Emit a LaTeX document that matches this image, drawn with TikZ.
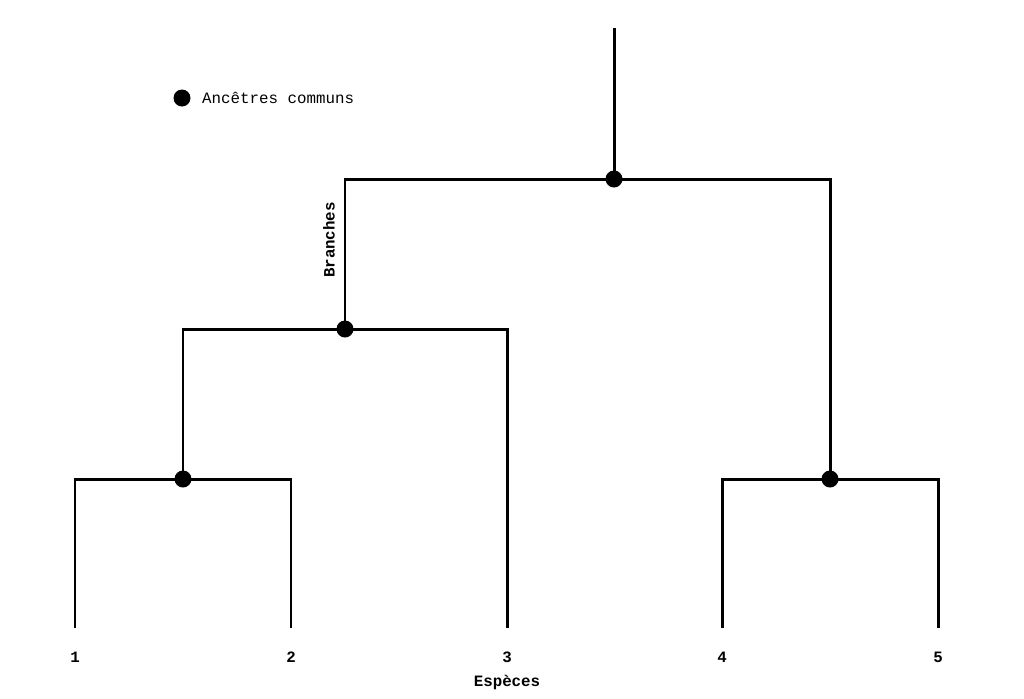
\documentclass[tikz,border=0pt]{standalone}
\usepackage{fontspec}
\setmonofont{Liberation Mono}
\begin{document}
\begin{tikzpicture}[
    x=0.02cm, y=-0.02cm,
    branch/.style={line width=1.7pt},
    anc/.style={circle,fill=black,inner sep=0pt,minimum size=0.34cm},
    lab/.style={font=\ttfamily\bfseries\small}
    ]
    \useasboundingbox (0,0) rectangle (1024,698);
    % especes
    \coordinate (s1) at (75,628);
    \coordinate (s2) at (291,628);
    \coordinate (s3) at (507,628);
    \coordinate (s4) at (722,628);
    \coordinate (s5) at (938,628);
    \foreach \i in {1,...,5}
      \node (l\i) [lab] at ([yshift=-0.58cm]s\i) {\i};
    \node (esp) [lab] at (507,682) {Espèces};
    % ancetres
    \node (a12) [anc] at (183,479) {};
    \node (a45) [anc] at (830,479) {};
    \node (a123) [anc] at (345,329) {};
    \node (root) [anc] at (614,179) {};
    \coordinate (top) at (614,28);
    \draw[branch] (s1) |- (a12.center) -| (s2);
    \draw[branch] (s4) |- (a45.center) -| (s5);
    \draw[branch] (a12.center) |- (a123.center) -| (s3);
    \draw[branch] (a123.center) |- (root.center) -| (a45.center);
    \draw[branch] (root.center) -- (top);
    \node (br) [lab,rotate=90] at (329,240) {Branches};
    % legende
    \node (leg) [anc] at (182,98) {};
    \node (legt) [lab,anchor=west,font=\ttfamily\small] at (196,98) {Ancêtres communs};
\end{tikzpicture}
\end{document}
